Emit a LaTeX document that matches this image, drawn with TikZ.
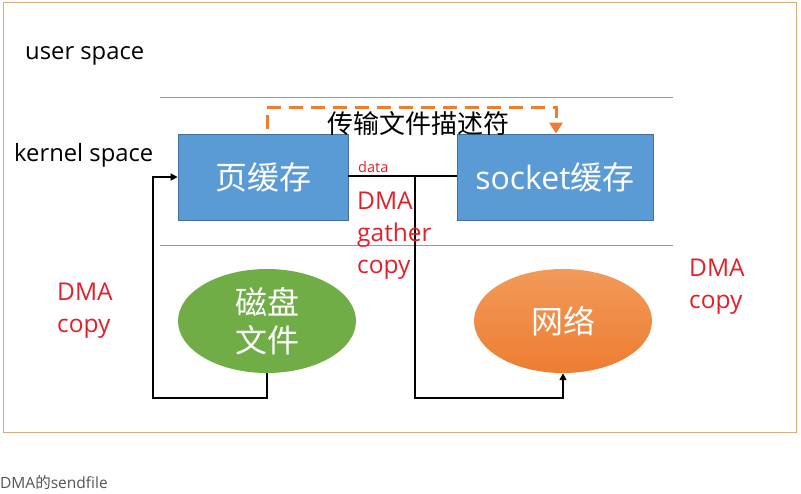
\documentclass[tikz,border=0pt]{standalone}
\usepackage{fontspec}
\setmainfont{Open Sans}
\newfontfamily\cjk{Noto Sans CJK SC}
\usetikzlibrary{arrows.meta,shapes.geometric}
\definecolor{framec}{HTML}{D9AD80}
\definecolor{sepc}{HTML}{7F9CC8}
\definecolor{boxfill}{HTML}{5B9BD5}
\definecolor{boxdraw}{HTML}{41719C}
\definecolor{greenf}{HTML}{70AD47}
\definecolor{orangef}{HTML}{ED7D31}
\definecolor{orangel}{HTML}{F29A5A}
\definecolor{redt}{HTML}{E0202A}
\definecolor{capc}{HTML}{555555}
\tikzset{
  cachebox/.style={draw=boxdraw, line width=0.8pt, fill=boxfill, minimum height=86pt, inner sep=0pt, text=white, font=\fontsize{32}{36}\selectfont},
  sep/.style={draw=sepc, line width=1pt},
  conn/.style={draw=black, line width=1.6pt},
  arr/.style={conn, -{Triangle[length=7pt,width=7pt]}},
  redlbl/.style={text=redt, font=\fontsize{24.5}{32}\selectfont, align=left, inner sep=0pt, anchor=north west},
  lbl/.style={font=\fontsize{23.8}{26}\selectfont, inner sep=0pt},
}
\begin{document}
\begin{tikzpicture}[x=1pt,y=-1pt]
\useasboundingbox (0,0) rectangle (801,493);
\draw[framec, line width=1pt] (3,2) rectangle (796,432);
\node[lbl, anchor=west] (user) at (25,56) {user space};
\node[lbl, anchor=west] (kernel) at (14,155) {kernel space};
\draw[sep] (160,97) -- (673,97);
\draw[sep] (160,245) -- (673,245);
\node[cachebox, minimum width=170pt] (page) at (263,177) {\cjk 页缓存};
\node[cachebox, minimum width=196pt] (sock) at (555,177) {socket{\cjk 缓存}};
\node[ellipse, fill=greenf, minimum width=178pt, minimum height=104pt, inner sep=0pt, text=white, align=center, font=\cjk\fontsize{32}{38}\selectfont] (disk) at (267,321) {磁盘\\文件};
\node[ellipse, top color=orangel, bottom color=orangef, minimum width=178pt, minimum height=104pt, inner sep=0pt, text=white, font=\cjk\fontsize{32}{38}\selectfont] (net) at (563,321) {网络};
% dashed orange arrow
\coordinate (d2) at (556,107);
\draw[orangef, line width=3pt, dash pattern=on 14pt off 8pt, -{Triangle[length=11pt,width=13pt]}] ([xshift=4pt]page.north) ++(0,-5) |- (d2) -- (sock.north -| d2);
\node[font=\cjk\fontsize{26}{28}\selectfont, inner sep=0pt] (fd) at (418,124) {传输文件描述符};
% data line
\coordinate (j) at (415,176);
\draw[conn] (page.east |- j) -- (sock.west |- j);
\node[text=redt, font=\fontsize{14.5}{16}\selectfont, inner sep=0pt, anchor=south west] (data) at (358,173) {data};
\coordinate (jb) at (415,398);
\draw[arr] (j) -- (jb) -| (net.south);
% left loop
\coordinate (lb) at (153,398);
\draw[arr] (disk.south) -- (disk.south |- lb) -- (lb) |- (page.west);
% red labels
\node[redlbl] (dg) at (357,192) {DMA\\gather\\copy};
\node[redlbl] (dl) at (57,283) {DMA\\copy};
\node[redlbl] (dr) at (689,259) {DMA\\copy};
\node[text=capc, font=\fontsize{15.5}{17}\selectfont, inner sep=0pt, anchor=west] (cap) at (0,482) {DMA{\cjk 的}sendfile};
\end{tikzpicture}
\end{document}
